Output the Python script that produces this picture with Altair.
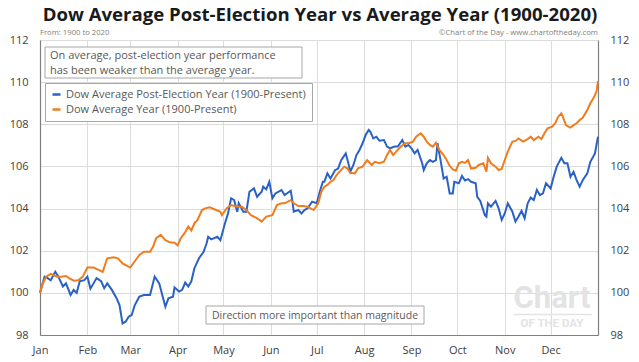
import altair as alt
import pandas as pd

# ---------------- data (day of year, index value) ----------------
post_days = [0,3,5,7,10,12,15,17,20,22,24,26,29,31,33,37,40,42,44,47,50,52,54,56,58,60,62,65,68,72,75,78,82,84,87,88,91,93,95,97,99,101,104,107,109,110,112,116,118,121,123,125,127,129,130,133,135,137,140,142,145,146,148,150,152,154,158,160,164,165,166,169,171,173,175,178,181,183,185,186,188,190,193,195,197,200,202,203,205,207,209,211,213,215,216,218,220,222,225,227,229,232,234,237,239,241,243,245,247,250,251,253,255,257,259,260,262,264,266,268,270,271,274,276,278,280,282,285,286,288,291,292,293,295,298,300,302,304,306,309,311,313,315,317,319,321,323,325,327,329,331,334,336,338,341,343,345,347,349,351,353,355,358,360,363,365]
post_vals = [100.0,100.77,100.7,100.6,101.0,100.77,100.3,100.45,99.9,100.14,100.0,100.55,100.6,100.77,100.2,100.7,100.55,100.22,100.45,100.14,99.76,99.42,98.55,98.63,98.87,98.95,99.42,99.82,99.9,99.9,100.77,100.45,99.34,99.74,99.82,100.26,100.06,100.14,100.49,100.3,100.55,101.17,101.64,101.95,102.35,102.66,102.54,102.66,102.5,103.3,103.77,104.49,104.4,103.85,104.25,103.85,103.85,104.8,104.96,104.56,104.8,105.04,104.91,105.27,104.49,104.72,104.88,104.64,104.85,104.4,103.85,103.93,103.77,103.93,104.01,104.33,104.25,104.8,105.27,105.27,105.67,105.43,105.82,105.9,106.3,106.62,106.07,105.75,106.07,106.54,106.78,107.1,107.49,107.73,107.65,107.33,107.41,107.22,107.25,106.94,106.86,106.94,106.94,107.25,106.94,107.02,106.86,106.62,106.78,106.15,105.83,106.15,106.3,106.22,106.3,107.1,106.3,105.43,105.51,104.72,104.72,105.27,105.2,105.55,105.33,105.4,105.27,105.2,104.56,104.36,103.69,103.62,104.25,104.09,104.36,104.01,103.46,103.77,104.25,103.85,103.38,103.62,103.89,103.54,104.25,104.52,104.4,104.88,104.64,104.72,105.2,104.96,105.51,105.99,106.41,106.15,106.15,105.51,105.75,105.35,105.04,105.35,105.67,106.22,106.62,107.41]

avg_days = [0,1,4,7,11,14,17,19,22,25,28,31,35,38,41,44,48,51,54,59,62,65,68,72,74,76,79,82,85,88,90,92,95,97,99,101,103,106,108,111,114,118,119,122,125,129,132,135,138,142,145,148,152,155,158,160,164,166,169,172,175,179,182,184,186,188,190,192,194,196,199,201,203,206,208,211,214,217,219,222,225,227,229,231,233,236,239,241,244,246,249,251,253,255,257,259,261,264,266,268,270,272,274,276,278,280,282,285,287,290,292,293,295,298,300,302,304,306,309,311,313,316,319,321,323,326,328,330,332,335,337,339,341,342,344,347,349,351,353,355,358,360,362,364,365]
avg_vals = [100.0,100.3,100.77,100.9,100.77,100.77,100.8,100.7,100.58,100.6,100.77,101.2,101.2,101.1,101.0,101.64,101.69,101.64,101.4,101.2,101.5,101.8,101.95,101.95,102.2,102.6,102.75,102.5,102.4,102.38,102.25,102.58,102.88,103.15,102.96,103.3,103.46,103.93,104.01,104.06,103.97,103.85,103.69,104.01,104.17,104.09,104.09,103.93,103.69,103.54,103.38,103.62,103.69,104.17,104.25,104.25,104.4,104.25,104.12,104.12,104.09,103.93,104.25,104.8,105.04,105.12,105.27,105.35,105.59,105.75,105.99,105.91,105.7,105.67,105.91,105.99,106.3,106.07,106.22,106.15,106.22,106.54,106.78,106.54,106.7,106.94,107.1,107.1,107.18,107.41,107.57,107.41,107.18,107.02,106.94,107.13,106.81,106.54,106.3,106.02,105.86,105.8,106.15,106.22,106.17,106.3,105.9,105.94,106.07,106.15,105.75,106.41,106.15,105.99,105.83,105.88,106.3,106.7,107.18,107.21,107.33,107.18,107.3,107.41,107.25,107.41,107.3,107.57,107.81,107.89,108.05,108.36,108.52,108.36,107.96,107.84,107.96,108.05,108.2,108.31,108.68,109.0,109.23,109.55,110.05]

series_names = ["Dow Average Post-Election Year (1900-Present)", "Dow Average Year (1900-Present)"]
series_colors = ["#2a62c4", "#f07c1e"]

month_starts = [0, 31, 59, 90, 120, 151, 181, 212, 243, 273, 304, 334]
month_labels = ["Jan", "Feb", "Mar", "Apr", "May", "Jun", "Jul", "Aug", "Sep", "Oct", "Nov", "Dec"]
y_ticks = [98, 100, 102, 104, 106, 108, 110, 112]

title_text = "Dow Average Post-Election Year vs Average Year (1900-2020)"
source_left = "From: 1900 to 2020"
source_right = "\u00a9Chart of the Day - www.chartoftheday.com"
note_lines = ["On average, post-election year performance", "has been weaker than the average year."]
bottom_note = "Direction more important than magnitude"
mark_big = "Chart"
mark_small = "OF THE DAY"

FONT = "Open Sans"
W, H = 558, 295

df = pd.concat([
    pd.DataFrame({"day": post_days, "value": post_vals, "series": series_names[0]}),
    pd.DataFrame({"day": avg_days, "value": avg_vals, "series": series_names[1]}),
])
one = pd.DataFrame({"k": [0]})

label_expr = ("[" + ",".join(f"'{m}'" for m in month_labels) + "][indexof(["
              + ",".join(str(d) for d in month_starts) + "], datum.value)]")

xscale = alt.Scale(domain=[0, 365], nice=False, zero=False)
yscale = alt.Scale(domain=[98, 112], nice=False, zero=False)

x_axis = alt.Axis(values=month_starts, labelExpr=label_expr, title=None,
                  grid=True, ticks=False, labelPadding=9, labelAlign="center")

lines = alt.Chart(df).mark_line(strokeWidth=2).encode(
    x=alt.X("day:Q", scale=xscale, axis=x_axis),
    y=alt.Y("value:Q", scale=yscale,
            axis=alt.Axis(values=y_ticks, title=None, orient="left", grid=True,
                          ticks=False, labelPadding=12)),
    color=alt.Color("series:N", scale=alt.Scale(domain=series_names, range=series_colors),
                    legend=alt.Legend(title=None, orient="none", legendX=5, legendY=43,
                                      fillColor="white", strokeColor="#a6a6a6", padding=6,
                                      labelFontSize=11, labelColor="#595959", labelFont=FONT,
                                      symbolType="stroke", symbolStrokeWidth=2.5, symbolSize=64,
                                      rowPadding=3, labelLimit=400)),
)

right_axis = alt.Chart(df).mark_point(opacity=0).encode(
    x=alt.X("day:Q", scale=xscale, axis=x_axis),
    y=alt.Y("value:Q", scale=yscale,
            axis=alt.Axis(values=y_ticks, title=None, orient="right", grid=False,
                          ticks=False, labelPadding=12)),
)

def text_layer(txt, x, y, align="left", size=10.5, color="#595959", font=FONT,
               weight="normal", baseline="middle"):
    return alt.Chart(one).mark_text(align=align, baseline=baseline, fontSize=size, font=font,
                                    color=color, fontWeight=weight).encode(
        x=alt.value(x), y=alt.value(y), text=alt.value(txt))

# title
title_mark = text_layer(title_text, W / 2 + 1, -19, align="center", size=18.6, color="#1a1a1a",
                        weight="bold", baseline="alphabetic")

# note box (top left)
note_box = alt.Chart(one).mark_rect(fill="white", stroke="#a6a6a6", strokeWidth=1).encode(
    x=alt.value(5), x2=alt.value(262), y=alt.value(7), y2=alt.value(38))
note_t1 = text_layer(note_lines[0], 10, 16, size=11)
note_t2 = text_layer(note_lines[1], 10, 30.5, size=11)

# bottom note box
bottom_box = alt.Chart(one).mark_rect(fill="white", stroke="#a6a6a6", strokeWidth=1).encode(
    x=alt.value(166), x2=alt.value(384), y=alt.value(266), y2=alt.value(284))
bottom_text = text_layer(bottom_note, 275, 275.5, align="center")

# watermark
wm_big = text_layer(mark_big, 512, 259, align="center", size=31, color="#e3e3e3",
                    font="Roboto", weight="bold")
wm_rule = alt.Chart(one).mark_rule(color="#e3e3e3", strokeWidth=1.5).encode(
    x=alt.value(474), x2=alt.value(552), y=alt.value(274.5))
wm_small = text_layer(mark_small, 512, 283.5, align="center", size=11.5, color="#e3e3e3",
                      font="Roboto", weight="bold")

# source lines
src_left = text_layer(source_left, 0, -7, size=7.7, color="#808080")
src_right = text_layer(source_right, W, -7, align="right", size=7.7, color="#808080")

chart = alt.layer(
    wm_big, wm_rule, wm_small, lines, right_axis, note_box, note_t1, note_t2,
    bottom_box, bottom_text, src_left, src_right, title_mark,
).resolve_scale(y="independent").resolve_axis(y="independent").properties(
    width=W, height=H,
    padding={"left": 32, "top": 32, "right": 33, "bottom": 27},
    autosize=alt.AutoSizeParams(type="none"),
).configure_view(stroke=None).configure_axis(
    gridColor="#dcdcdc", gridWidth=1, domainColor="#7f7f7f", domainWidth=1.2,
    labelColor="#404040", labelFontSize=11, labelFont=FONT,
)

chart.save("out.html", embed_options={"renderer": "svg", "actions": False})
